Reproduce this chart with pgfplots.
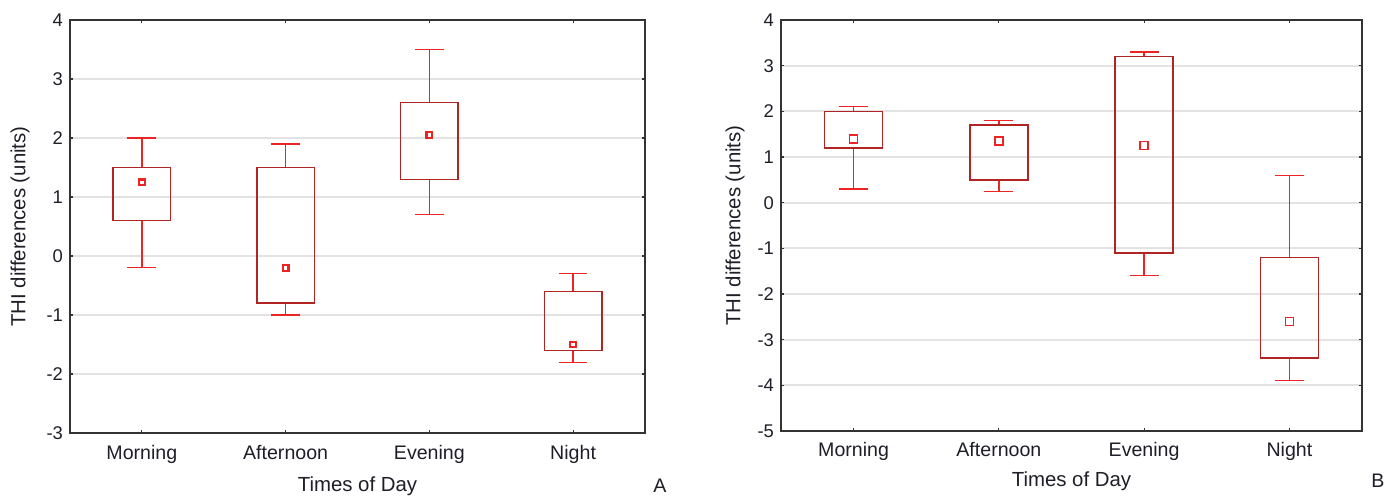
\documentclass[border=0pt]{standalone}
\usepackage{pgfplots}
\pgfplotsset{compat=1.18}
\usepgfplotslibrary{statistics}
\usepackage{fontspec}
\setmainfont{Liberation Sans}
\definecolor{boxred}{HTML}{B02424}
\definecolor{whiskred}{HTML}{EC2424}
\definecolor{gridgray}{HTML}{E3E3E3}
\definecolor{framec}{HTML}{333333}
\definecolor{txt}{HTML}{1E1E28}
\pgfplotsset{
  myaxis/.style={
    scale only axis,
    anchor=south west,
    xmin=0.5, xmax=4.5,
    xtick={1,2,3,4},
    xticklabels={Morning,Afternoon,Evening,Night},
    ytick distance=1,
    ymajorgrids,
    grid style={gridgray, line width=0.9bp},
    axis line style={framec, line width=0.9bp},
    tick style={framec, line width=0.6bp},
    major tick length=1.5bp,
    tick align=inside,
    xtick pos=both, ytick pos=both,
    /pgf/number format/assume math mode=true,
    tick label style={font=\fontsize{9.2bp}{10bp}\selectfont, text=txt},
    xticklabel style={font=\fontsize{9.8bp}{10bp}\selectfont},
    label style={font=\fontsize{10.2bp}{11bp}\selectfont, text=txt},
    boxplot/draw direction=y,
    boxplot/every box/.style={draw=boxred, line width=0.8bp},
    boxplot/every whisker/.style={draw=whiskred, line width=0.65bp},
    boxplot/every median/.style={draw=none},
    boxplot/box extend=0.4,
    boxplot/whisker extend=0.2,
  }
}
\begin{document}
\begin{tikzpicture}
\path[use as bounding box] (0,0) rectangle (694bp,248.5bp);
% Panel A
\begin{axis}[myaxis, at={(35bp,32bp)}, width=287.5bp, height=206.5bp,
  ymin=-3, ymax=4,
  xlabel={Times of Day}, ylabel={THI differences (units)},
  xticklabel style={anchor=base, yshift=-13.2bp},
  xlabel style={at={(axis description cs:0.5,-0.128)}, anchor=center},
  ylabel style={at={(axis description cs:-0.087,0.5)}, anchor=center}]
\addplot[boxplot prepared={draw position=1, lower whisker=-0.2, lower quartile=0.6, median=1.25, upper quartile=1.5, upper whisker=2.0}] coordinates {};
\addplot[boxplot prepared={draw position=2, lower whisker=-1.0, lower quartile=-0.8, median=-0.2, upper quartile=1.5, upper whisker=1.9}] coordinates {};
\addplot[boxplot prepared={draw position=3, lower whisker=0.7, lower quartile=1.3, median=2.05, upper quartile=2.6, upper whisker=3.5}] coordinates {};
\addplot[boxplot prepared={draw position=4, lower whisker=-1.8, lower quartile=-1.6, median=-1.5, upper quartile=-0.6, upper whisker=-0.3}] coordinates {};
\addplot[only marks, color=whiskred, mark=square, mark size=1.4bp, mark options={color=whiskred, line width=1.1bp}] coordinates {(1,1.25) (2,-0.2) (3,2.05) (4,-1.5)};
\end{axis}
% Panel B
\begin{axis}[myaxis, at={(390.5bp,33bp)}, width=290.5bp, height=205.5bp,
  ymin=-5, ymax=4,
  xlabel={Times of Day}, ylabel={THI differences (units)},
  xticklabel style={anchor=base, yshift=-12.7bp},
  xlabel style={at={(axis description cs:0.5,-0.122)}, anchor=center},
  ylabel style={at={(axis description cs:-0.079,0.5)}, anchor=center}]
\addplot[boxplot prepared={draw position=1, lower whisker=0.3, lower quartile=1.2, median=1.4, upper quartile=2.0, upper whisker=2.1}] coordinates {};
\addplot[boxplot prepared={draw position=2, lower whisker=0.25, lower quartile=0.5, median=1.35, upper quartile=1.7, upper whisker=1.8}] coordinates {};
\addplot[boxplot prepared={draw position=3, lower whisker=-1.6, lower quartile=-1.1, median=1.25, upper quartile=3.2, upper whisker=3.3}] coordinates {};
\addplot[boxplot prepared={draw position=4, lower whisker=-3.9, lower quartile=-3.4, median=-2.6, upper quartile=-1.2, upper whisker=0.6}] coordinates {};
\addplot[only marks, color=whiskred, mark=square, mark size=2bp, mark options={color=whiskred, line width=0.85bp}] coordinates {(1,1.4) (2,1.35) (3,1.25) (4,-2.6)};
\end{axis}
\node[font=\fontsize{9.8bp}{10bp}\selectfont, text=txt] at (330bp,5.5bp) {A};
\node[font=\fontsize{9.8bp}{10bp}\selectfont, text=txt] at (689bp,8bp) {B};
\end{tikzpicture}
\end{document}
